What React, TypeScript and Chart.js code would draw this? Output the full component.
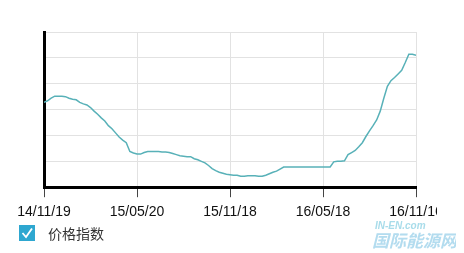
import React, { useEffect, useRef } from "react";
import { Chart, registerables } from "chart.js";

Chart.register(...registerables);

// Weekly index values, 2014-11-19 .. 2016-11-16 (105 weeks)
const priceIndex: number[] = [
  514, 517, 522, 526, 526, 526, 525, 522, 520, 519,
  514, 511, 509, 504, 497, 491, 484, 478, 469, 463,
  455, 447, 441, 436, 419, 416, 414, 414, 417, 419,
  419, 419, 419, 418, 418, 417, 415, 413, 411, 410,
  409, 409, 405, 403, 400, 397, 392, 386, 382, 379,
  377, 375, 374, 373, 373, 371, 371, 372, 372, 372,
  371, 371, 373, 376, 379, 381, 385, 389, 389, 389,
  389, 389, 389, 389, 389, 389, 389, 389, 389, 389,
  389, 399, 400, 400, 401, 413, 417, 421, 428, 436,
  448, 459, 469, 480, 497, 522, 545, 556, 562, 569,
  576, 591, 607, 607, 605,
];

const tickLabels: string[] = ["14/11/19", "15/05/20", "15/11/18", "16/05/18", "16/11/16"];
const weeksPerTick = 26;
const seriesName = "价格指数";
const yMin = 350;
const yMax = 650;
const yStep = 50;

export default function App() {
  const canvasRef = useRef<HTMLCanvasElement | null>(null);

  useEffect(() => {
    if (!canvasRef.current) return;
    const points = priceIndex.map((v, i) => ({ x: i, y: v }));
    const chart = new Chart(canvasRef.current, {
      type: "line",
      data: {
        datasets: [
          {
            label: seriesName,
            data: points,
            borderColor: "#58b1b8",
            borderWidth: 1.5,
            pointRadius: 0,
            tension: 0,
            fill: false,
          },
        ],
      },
      options: {
        animation: false,
        responsive: false,
        events: [],
        layout: { padding: { left: 36, top: 24, right: 52, bottom: 3 } },
        plugins: { legend: { display: false }, tooltip: { enabled: false } },
        scales: {
          x: {
            type: "linear",
            min: 0,
            max: priceIndex.length - 1,
            grid: {
              color: "#e2e2e2",
              lineWidth: 1,
              drawTicks: true,
              tickLength: 10,
              tickColor: "#444",
            },
            border: { color: "#000", width: 3 },
            ticks: {
              stepSize: weeksPerTick,
              autoSkip: false,
              maxRotation: 0,
              padding: 7,
              color: "#111",
              font: { family: "'Liberation Sans', Arial, sans-serif", size: 14 },
              callback: (v: any) => tickLabels[Math.round(Number(v) / weeksPerTick)] ?? "",
            },
          },
          y: {
            min: yMin,
            max: yMax,
            grid: { color: "#e2e2e2", lineWidth: 1, drawTicks: false },
            border: { color: "#000", width: 3 },
            ticks: { stepSize: yStep, display: false },
          },
        },
      },
    });
    return () => chart.destroy();
  }, []);

  return (
    <div style={{ position: "relative", width: 448, height: 245 }}>
      <div style={{ position: "absolute", left: 0, top: 0, width: 429, height: 223, overflow: "hidden" }}>
        <canvas ref={canvasRef} width={460} height={223} style={{ display: "block" }} />
      </div>
      <div
        style={{
          position: "absolute",
          left: 11,
          top: 217,
          display: "flex",
          alignItems: "center",
          fontFamily: "'Noto Sans CJK SC', sans-serif",
          fontSize: 14,
          color: "#333",
        }}
      >
        <svg width="16" height="16" viewBox="0 0 16 16" style={{ display: "block" }}>
          <rect x="0" y="0" width="16" height="16" fill="#2ea7d0" />
          <polyline points="3.5,8 7,12 13,3.5" fill="none" stroke="#fff" strokeWidth="1.8" />
        </svg>
        <span style={{ marginLeft: 13, lineHeight: "16px" }}>{seriesName}</span>
      </div>
      <div
        style={{
          position: "absolute",
          left: 367,
          top: 213,
          fontFamily: "'Liberation Sans', Arial, sans-serif",
          fontStyle: "italic",
          fontWeight: "bold",
          color: "#a8dcea",
          fontSize: 10,
          lineHeight: "10px",
        }}
      >
        IN-EN.com
      </div>
      <div
        style={{
          position: "absolute",
          left: 364,
          top: 223,
          fontFamily: "'Noto Sans CJK SC', sans-serif",
          fontStyle: "italic",
          fontWeight: "bold",
          color: "#b3dcef",
          fontSize: 17,
          lineHeight: "18px",
          whiteSpace: "nowrap",
        }}
      >
        国际能源网
      </div>
    </div>
  );
}
